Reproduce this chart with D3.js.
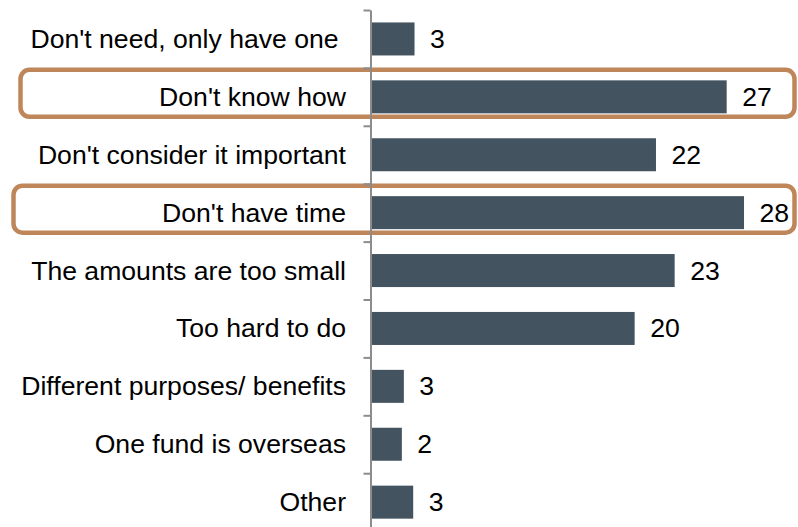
<!DOCTYPE html>
<html>
<head>
<meta charset="utf-8">
<script src="https://cdn.jsdelivr.net/npm/d3@7"></script>
<style>
    body { margin: 0; background: #fff; }
    svg { display: block; }
</style>
</head>
<body>
<svg width="798" height="527"></svg>
<script>
// Reasons (top to bottom)
const categories = [
    "Don't need, only have one ",
    "Don't know how",
    "Don't consider it important",
    "Don't have time",
    "The amounts are too small",
    "Too hard to do",
    "Different purposes/ benefits",
    "One fund is overseas",
    "Other"
];
// bar lengths
const values = [3.3, 26.7, 21.4, 28.0, 22.8, 19.8, 2.5, 2.35, 3.2];
// printed labels
const valueLabels = ['3', '27', '22', '28', '23', '20', '3', '2', '3'];
// rows that get a highlight box
const highlighted = ["Don't know how", "Don't have time"];

function drawBarchart() {
    const svg = d3.select('svg');
    const axisX = 370.5;
    const rowStep = 57.9;
    const top = 10;

    const xScale = d3.scaleLinear()
        .domain([0, 30])
        .range([axisX, axisX + 400.2]);
    const yScale = d3.scaleBand()
        .domain(categories)
        .range([top, top + rowStep * categories.length])
        .paddingInner(0.43)
        .paddingOuter(0.215);
    // row boundaries for the tick marks
    const rowScale = d3.scaleLinear()
        .domain([0, categories.length])
        .range([top, top + rowStep * categories.length]);

    // Highlight boxes
    highlighted.forEach(name => {
        const cy = yScale(name) + yScale.bandwidth() / 2 - 3.5;
        const left = name === "Don't have time" ? 13.5 : 20.5;
        svg.append('rect')
            .attr('x', left)
            .attr('y', cy - 23.5)
            .attr('width', 794.5 - left)
            .attr('height', 47)
            .attr('rx', 9)
            .attr('fill', 'none')
            .attr('stroke', '#bf865a')
            .attr('stroke-width', 4.5);
    });

    // Bars
    svg.selectAll('rect.bar')
        .data(values)
        .join('rect')
        .attr('class', 'bar')
        .attr('x', xScale(0))
        .attr('y', (d, i) => yScale(categories[i]))
        .attr('width', d => xScale(d) - xScale(0))
        .attr('height', yScale.bandwidth())
        .attr('fill', '#435360');

    // Axis
    const yAxis = d3.axisLeft(rowScale)
        .tickValues(d3.range(0, categories.length + 1))
        .tickFormat('')
        .tickSize(7)
        .tickSizeOuter(0);
    const axisG = svg.append('g')
        .attr('transform', `translate(${axisX}, 0)`)
        .call(yAxis);
    axisG.selectAll('path, line')
        .attr('stroke', '#8c8c8c')
        .attr('stroke-width', 2);

    // Category labels
    svg.selectAll('text.cat')
        .data(categories)
        .join('text')
        .attr('class', 'cat')
        .text(d => d)
        .attr('x', 346)
        .attr('y', d => yScale(d) + yScale.bandwidth() / 2)
        .attr('dy', '0.34em')
        .style('text-anchor', 'end')
        .style('white-space', 'pre')
        .style('font-family', 'Liberation Sans, Arial, sans-serif')
        .style('font-size', '26.6px')
        .attr('fill', '#000');

    // Value labels
    svg.selectAll('text.val')
        .data(values)
        .join('text')
        .attr('class', 'val')
        .text((d, i) => valueLabels[i])
        .attr('x', d => xScale(d) + 15.5)
        .attr('y', (d, i) => yScale(categories[i]) + yScale.bandwidth() / 2)
        .attr('dy', '0.34em')
        .style('font-family', 'Liberation Sans, Arial, sans-serif')
        .style('font-size', '26.6px')
        .attr('fill', '#000');
}

window.addEventListener('load', drawBarchart);
</script>
</body>
</html>
